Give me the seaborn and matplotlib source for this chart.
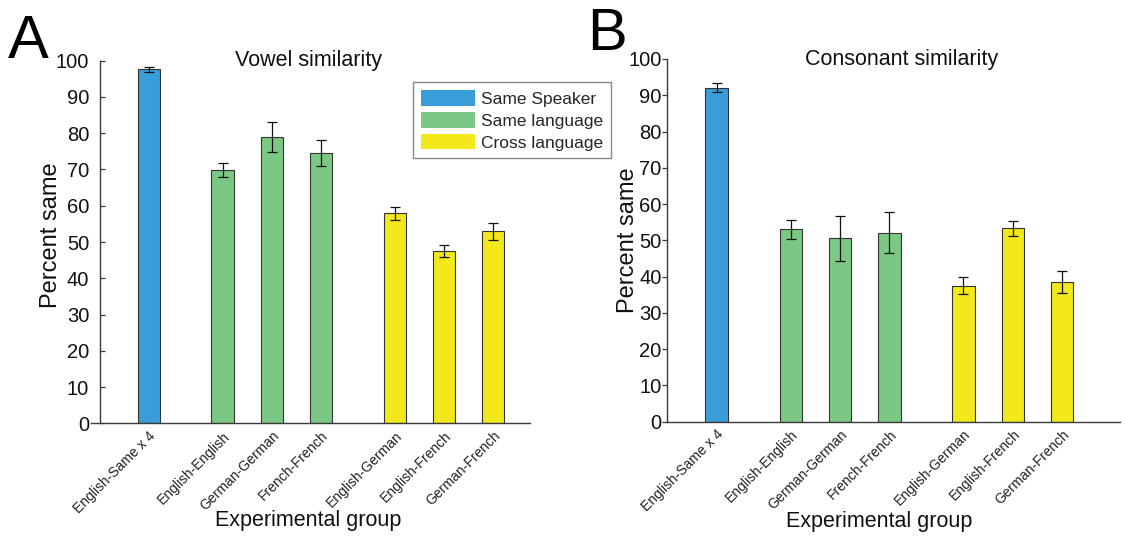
import numpy as np
import pandas as pd
import matplotlib
matplotlib.use("Agg")
import matplotlib.pyplot as plt
from matplotlib.patches import Patch
import seaborn as sns

# ---------------- data ----------------
groups = ["English-Same x 4", "English-English", "German-German", "French-French",
          "English-German", "English-French", "German-French"]
kinds = ["Same Speaker", "Same language", "Same language", "Same language",
         "Cross language", "Cross language", "Cross language"]
kind_order = ["Same Speaker", "Same language", "Cross language"]
vowel_mean = [97.6, 69.8, 79.0, 74.5, 57.9, 47.6, 52.9]
vowel_err = [0.6, 1.9, 4.2, 3.5, 1.75, 1.6, 2.3]
consonant_mean = [92.1, 53.0, 50.6, 52.1, 37.5, 53.3, 38.5]
consonant_err = [1.2, 2.5, 6.2, 5.7, 2.3, 2.15, 3.0]
y_ticks = [0, 10, 20, 30, 40, 50, 60, 70, 80, 90, 100]

# ---------------- layout / style ----------------
x_pos = [0, 1.5, 2.5, 3.5, 5, 6, 7]
colors = {"Same Speaker": "#3A9DDA", "Same language": "#7BC784", "Cross language": "#F2E81C"}

sns.set_theme(style="white")
plt.rcParams['font.family'] = ['Liberation Sans', 'DejaVu Sans']

W, H = 1125, 536
fig = plt.figure(figsize=(W / 100, H / 100), dpi=100)
axA = fig.add_axes([90.7 / W, 1 - 423.3 / H, 439.3 / W, 362.6 / H])
axB = fig.add_axes([666.7 / W, 1 - 421.7 / H, 453.3 / W, 362.7 / H])

df = pd.DataFrame({"group": groups, "kind": kinds, "pos": x_pos,
                   "vowel": vowel_mean, "vowel_err": vowel_err,
                   "consonant": consonant_mean, "consonant_err": consonant_err})

spine_col = "#3a3a3a"


def panel(ax, col, errcol, title, title_x, xlim, tick_dir, tick_pad, xlab_x, ylab_x):
    sns.barplot(data=df, x="pos", y=col, hue="kind", hue_order=kind_order,
                palette=colors, saturation=1, native_scale=True, dodge=False, width=0.45,
                edgecolor="#333333", linewidth=0.8, errorbar=None, legend=False, ax=ax)
    ax.errorbar(df["pos"], df[col], yerr=df[errcol], fmt="none", ecolor="#111111",
                elinewidth=0.9, capsize=3.5, capthick=0.9, zorder=5)
    ax.set_xlim(*xlim)
    ax.set_ylim(0, 100)
    ax.set_yticks(y_ticks)
    ax.set_yticklabels([str(t) for t in y_ticks])
    ax.set_xticks(df["pos"])
    ax.set_xticklabels(groups, rotation=45, ha="right", rotation_mode="anchor",
                       fontsize=10, color="#222222")
    ax.tick_params(axis="x", length=0, pad=4)
    ax.tick_params(axis="y", direction=tick_dir, length=3.5, width=0.9, color=spine_col,
                   labelsize=14.5, pad=tick_pad, labelcolor="#111111", left=True)
    for s in ["top", "right"]:
        ax.spines[s].set_visible(False)
    for s in ["left", "bottom"]:
        ax.spines[s].set_color(spine_col)
        ax.spines[s].set_linewidth(1.0)
    ax.spines["left"].set_position(("data", -1.0))
    ax.spines["left"].set_bounds(0, 100)
    ax.set_xlabel("Experimental group", fontsize=15.5, color="#111111")
    ax.set_ylabel("Percent same", fontsize=17, color="#111111")
    ax.xaxis.set_label_coords(xlab_x[0], xlab_x[1])
    ax.xaxis.label.set_va("center")
    ax.yaxis.set_label_coords(ylab_x[0], ylab_x[1])
    ax.yaxis.label.set_va("center")
    ax.text(title_x, 100, title, ha="center", va="center", fontsize=15.5, color="#111111")
    ax.grid(False)
    ax.set_facecolor("none")


panel(axA, "vowel", "vowel_err", "Vowel similarity", 3.24, (-1.18, 7.75), "in", 7.5,
      (0.495, -0.269), (-0.090, 0.52))
panel(axB, "consonant", "consonant_err", "Consonant similarity", 3.75, (-1.01, 8.17), "out", 0.5,
      (0.469, -0.274), (-0.085, 0.50))

handles = [Patch(facecolor=colors[k], edgecolor="none", label=k) for k in kind_order]
fig.legend(handles=handles, loc="upper left", bbox_to_anchor=(413.3 / W, 1 - 82.3 / H),
           fontsize=12.5, frameon=True, fancybox=False, shadow=False, framealpha=1,
           edgecolor="#888888", handlelength=3.1, handleheight=1.0, handletextpad=0.35,
           labelspacing=0.3, borderpad=0.45, borderaxespad=0)

fig.text(8 / W, 1 - 58 / H, "A", fontsize=44, va="baseline", ha="left", color="black")
fig.text(587 / W, 1 - 50 / H, "B", fontsize=43, va="baseline", ha="left", color="black")

fig.savefig("out.png", dpi=100, facecolor="white")
